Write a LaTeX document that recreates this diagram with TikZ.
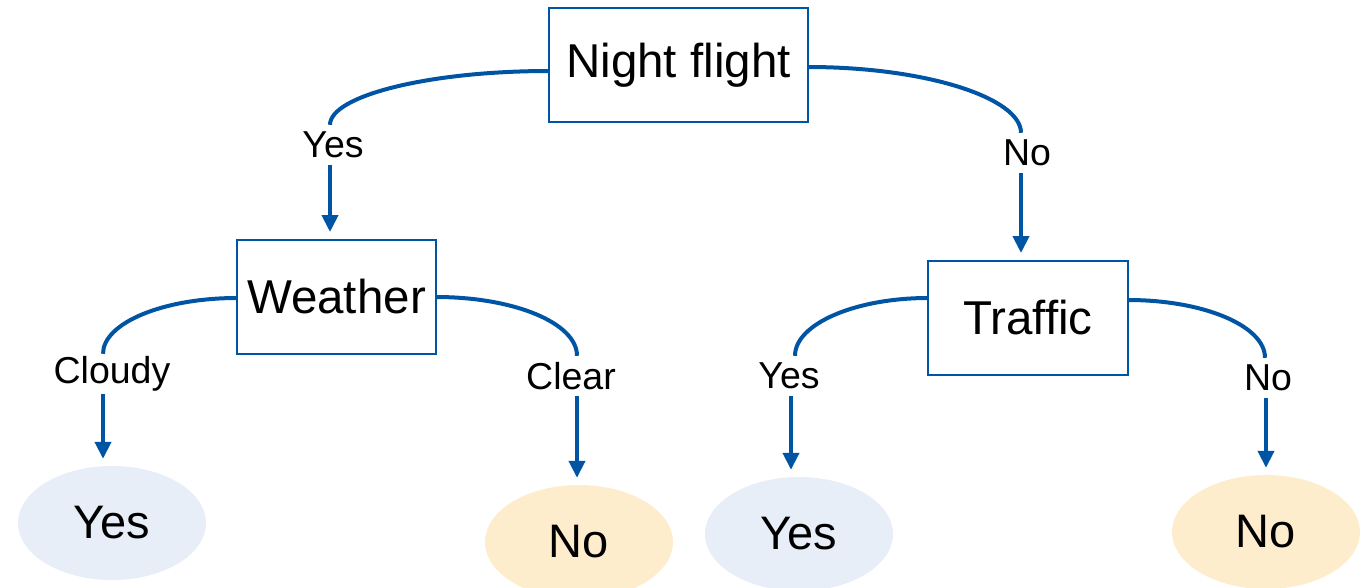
\documentclass[tikz,border=0pt]{standalone}
\usepackage{fontspec}
\setmainfont{Liberation Sans}
\usetikzlibrary{arrows.meta,shapes.geometric}
\definecolor{lineblue}{RGB}{0,84,164}
\definecolor{leafblue}{RGB}{231,238,248}
\definecolor{leafyellow}{RGB}{254,237,204}
\tikzset{
  decbox/.style={draw=lineblue,line width=2pt,minimum width=259pt,minimum height=114pt,inner sep=0pt,font=\fontsize{47.5}{56}\selectfont},
  leaf/.style={ellipse,draw=none,minimum width=188pt,minimum height=114pt,inner sep=0pt,font=\fontsize{47}{56}\selectfont},
  yesleaf/.style={leaf,fill=leafblue},
  noleaf/.style={leaf,fill=leafyellow},
  edgelabel/.style={inner sep=0pt,minimum height=40pt,font=\fontsize{37.5}{44}\selectfont},
  arc/.style={draw=lineblue,line width=4pt},
  arr/.style={draw=lineblue,line width=4pt,-{Triangle[length=17pt,width=16pt]},shorten >=7pt}
}
\begin{document}
\begin{tikzpicture}[x=1pt,y=-1pt]
\useasboundingbox (0,0) rectangle (1369,587);
% decision nodes
\node[decbox] (nf) at (678.5,65) {Night flight};
\node[decbox,minimum width=199pt] (wx) at (336.5,297) {Weather};
\node[decbox,minimum width=200pt] (tr) at (1028,318) {Traffic};
% leaves
\node[yesleaf] (l1) at (112,523) {Yes};
\node[noleaf] (l2) at (579,542) {No};
\node[yesleaf] (l3) at (799,534) {Yes};
\node[noleaf] (l4) at (1266,532) {No};
% edge labels
\node[edgelabel] (e1) at (333,145) {Yes};
\node[edgelabel] (e2) at (1027,153) {No};
\node[edgelabel] (e3) at (112,374) {Cloudy};
\node[edgelabel] (e4) at (571,376) {Clear};
\node[edgelabel] (e5) at (789,376) {Yes};
\node[edgelabel] (e6) at (1268,378) {No};
% coordinates on box edges
\coordinate (nfL) at (549,71);
\coordinate (nfR) at (808,67);
\coordinate (wxL) at (237,298);
\coordinate (wxR) at (436,297);
\coordinate (trL) at (928,298);
\coordinate (trR) at (1128,300);
% arcs (quarter ellipses)
\draw[arc] (nfL) .. controls (428,71) and (330,96) .. (e1.north -| 330,0);
\draw[arc] (nfR) .. controls (926,67) and (1021,98) .. (e2.north -| 1021,0);
\draw[arc] (wxL) .. controls (163,298) and (103,323) .. (e3.north -| 103,0);
\draw[arc] (wxR) .. controls (514,297) and (577,323) .. (e4.north -| 577,0);
\draw[arc] (trL) .. controls (855,298) and (795,324) .. (e5.north -| 795,0);
\draw[arc] (trR) .. controls (1204,300) and (1265,326) .. (e6.north -| 1265,0);
% arrows
\draw[arr] (e1.south -| 330,0) -- (wx.north -| 330,0);
\draw[arr] (e2.south -| 1021,0) -- (tr.north -| 1021,0);
\draw[arr] (e3.south -| 103,0) -- (l1.north -| 103,0);
\draw[arr] (e4.south -| 577,0) -- (l2.north -| 577,0);
\draw[arr] (e5.south -| 791,0) -- (l3.north -| 791,0);
\draw[arr] (e6.south -| 1266,0) -- (l4.north -| 1266,0);
\end{tikzpicture}
\end{document}
